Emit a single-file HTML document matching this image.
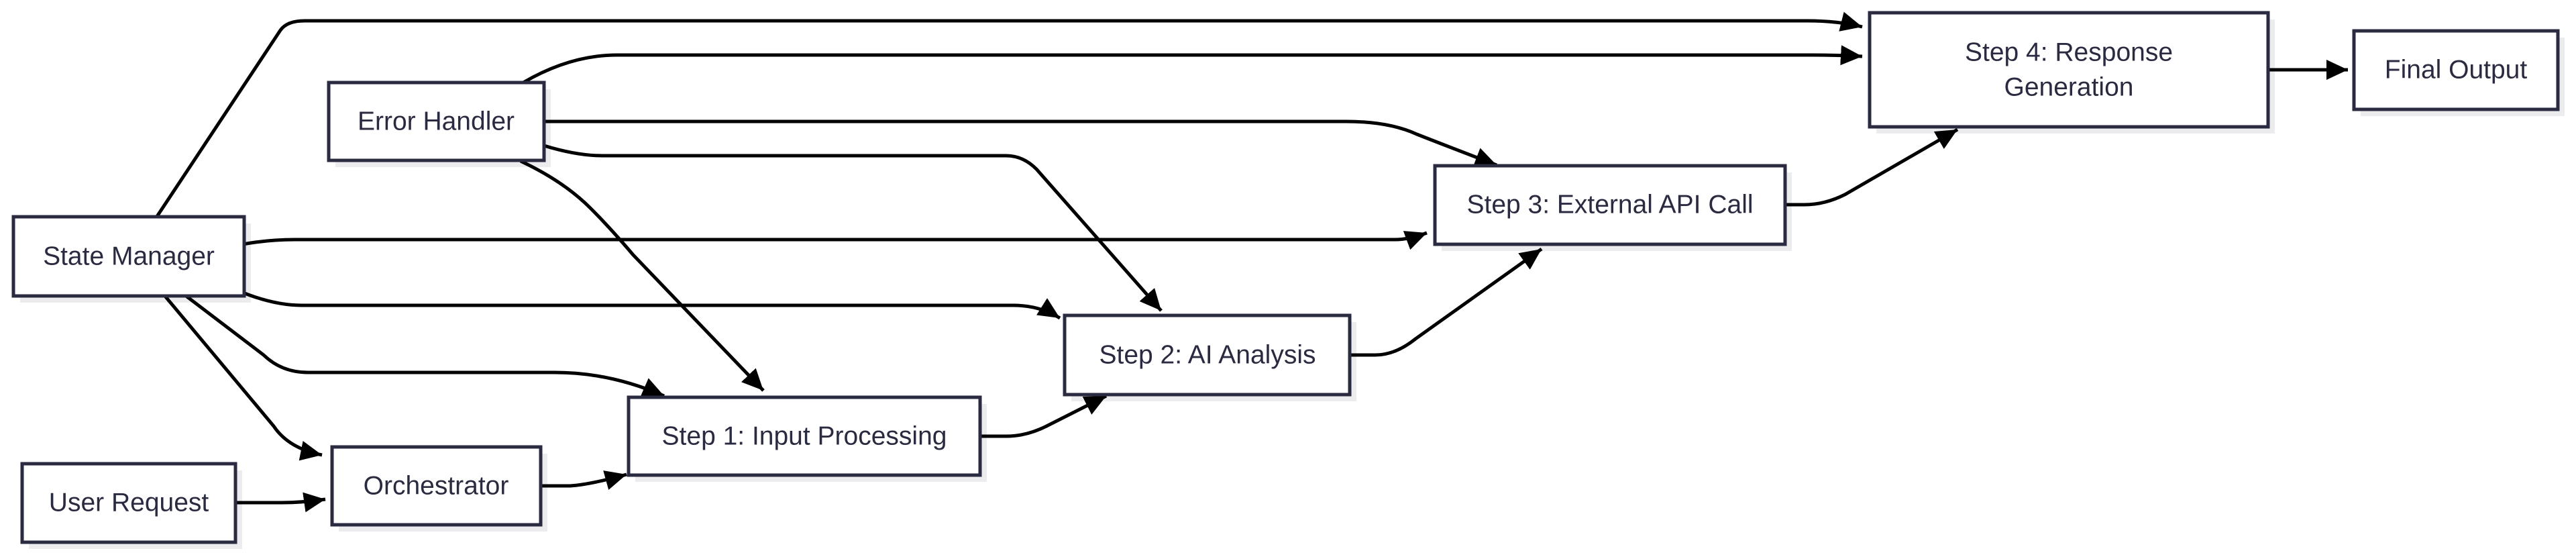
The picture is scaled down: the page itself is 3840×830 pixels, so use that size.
<!DOCTYPE html>
<html><head><meta charset="utf-8"><style>
html,body{margin:0;padding:0;background:#fff;}
svg{display:block;}
text{font-family:"Liberation Sans",sans-serif;font-size:39px;fill:#2a2a40;text-anchor:middle;dominant-baseline:central;}
.sh{fill:#ececef;}
.b{fill:#fff;stroke:#2a2a40;stroke-width:5;}
.e{fill:none;stroke:#000;stroke-width:5;}
</style></head><body>
<svg width="3840" height="830" viewBox="0 0 3840 830" xmlns="http://www.w3.org/2000/svg">
<defs>
<marker id="a" markerUnits="userSpaceOnUse" markerWidth="34" markerHeight="30" refX="32" refY="15" orient="auto">
<path d="M0,0 L32,15 L0,30 Z" fill="#000"/>
</marker>
</defs>
<rect class="sh" x="30" y="333" width="344" height="118"/>
<rect class="sh" x="500" y="133" width="321" height="116"/>
<rect class="sh" x="43" y="701" width="318" height="117"/>
<rect class="sh" x="505" y="676" width="311" height="116"/>
<rect class="sh" x="947" y="602" width="524" height="116"/>
<rect class="sh" x="1597" y="480" width="425" height="118"/>
<rect class="sh" x="2149" y="257" width="522" height="117"/>
<rect class="sh" x="2797" y="29" width="594" height="170"/>
<rect class="sh" x="3519" y="56" width="304" height="117"/>
<path class="e" marker-end="url(#a)" d="M233,324 L418,45 Q428,31 454,31 L2694,31 Q2740,31 2776,40"/>
<path class="e" marker-end="url(#a)" d="M780,123 Q850,82 920,82 L2700,82 Q2740,82 2776,84"/>
<path class="e" marker-end="url(#a)" d="M811,181 L2007,181 Q2070,181 2112,200 Q2150,215 2231,246"/>
<path class="e" marker-end="url(#a)" d="M811,217 Q860,232 898,232 L1500,232 Q1525,232 1545,252 L1731,463"/>
<path class="e" marker-end="url(#a)" d="M776,240 Q840,270 880,310 Q910,340 944,380 L1138,582"/>
<path class="e" marker-end="url(#a)" d="M362,364 Q400,357 440,357 L2080,357 Q2100,357 2127,347"/>
<path class="e" marker-end="url(#a)" d="M362,436 Q410,455 450,455 L1510,455 Q1550,455 1580,474"/>
<path class="e" marker-end="url(#a)" d="M276,440 L393,529 Q420,555 459,555 L827,555 Q910,555 990,590"/>
<path class="e" marker-end="url(#a)" d="M245,440 L408,635 Q430,668 480,678"/>
<path class="e" marker-end="url(#a)" d="M351,749 L420,749 Q450,749 485,744"/>
<path class="e" marker-end="url(#a)" d="M806,724 L850,724 Q880,722 934,707"/>
<path class="e" marker-end="url(#a)" d="M1461,650 L1500,650 Q1530,650 1560,635 L1649,590"/>
<path class="e" marker-end="url(#a)" d="M2012,529 L2050,529 Q2080,529 2110,505 L2298,371"/>
<path class="e" marker-end="url(#a)" d="M2661,305 L2690,305 Q2720,305 2750,290 L2918,193"/>
<path class="e" marker-end="url(#a)" d="M3381,104 L3500,104"/>
<rect class="b" x="20" y="323" width="344" height="118"/>
<text x="192" y="382">State Manager</text>
<rect class="b" x="490" y="123" width="321" height="116"/>
<text x="650" y="181">Error Handler</text>
<rect class="b" x="33" y="691" width="318" height="117"/>
<text x="192" y="749">User Request</text>
<rect class="b" x="495" y="666" width="311" height="116"/>
<text x="650" y="724">Orchestrator</text>
<rect class="b" x="937" y="592" width="524" height="116"/>
<text x="1199" y="650">Step 1: Input Processing</text>
<rect class="b" x="1587" y="470" width="425" height="118"/>
<text x="1800" y="529">Step 2: AI Analysis</text>
<rect class="b" x="2139" y="247" width="522" height="117"/>
<text x="2400" y="305">Step 3: External API Call</text>
<rect class="b" x="2787" y="19" width="594" height="170"/>
<text x="3084" y="78">Step 4: Response</text>
<text x="3084" y="130">Generation</text>
<rect class="b" x="3509" y="46" width="304" height="117"/>
<text x="3661" y="104">Final Output</text>
</svg>
</body></html>
